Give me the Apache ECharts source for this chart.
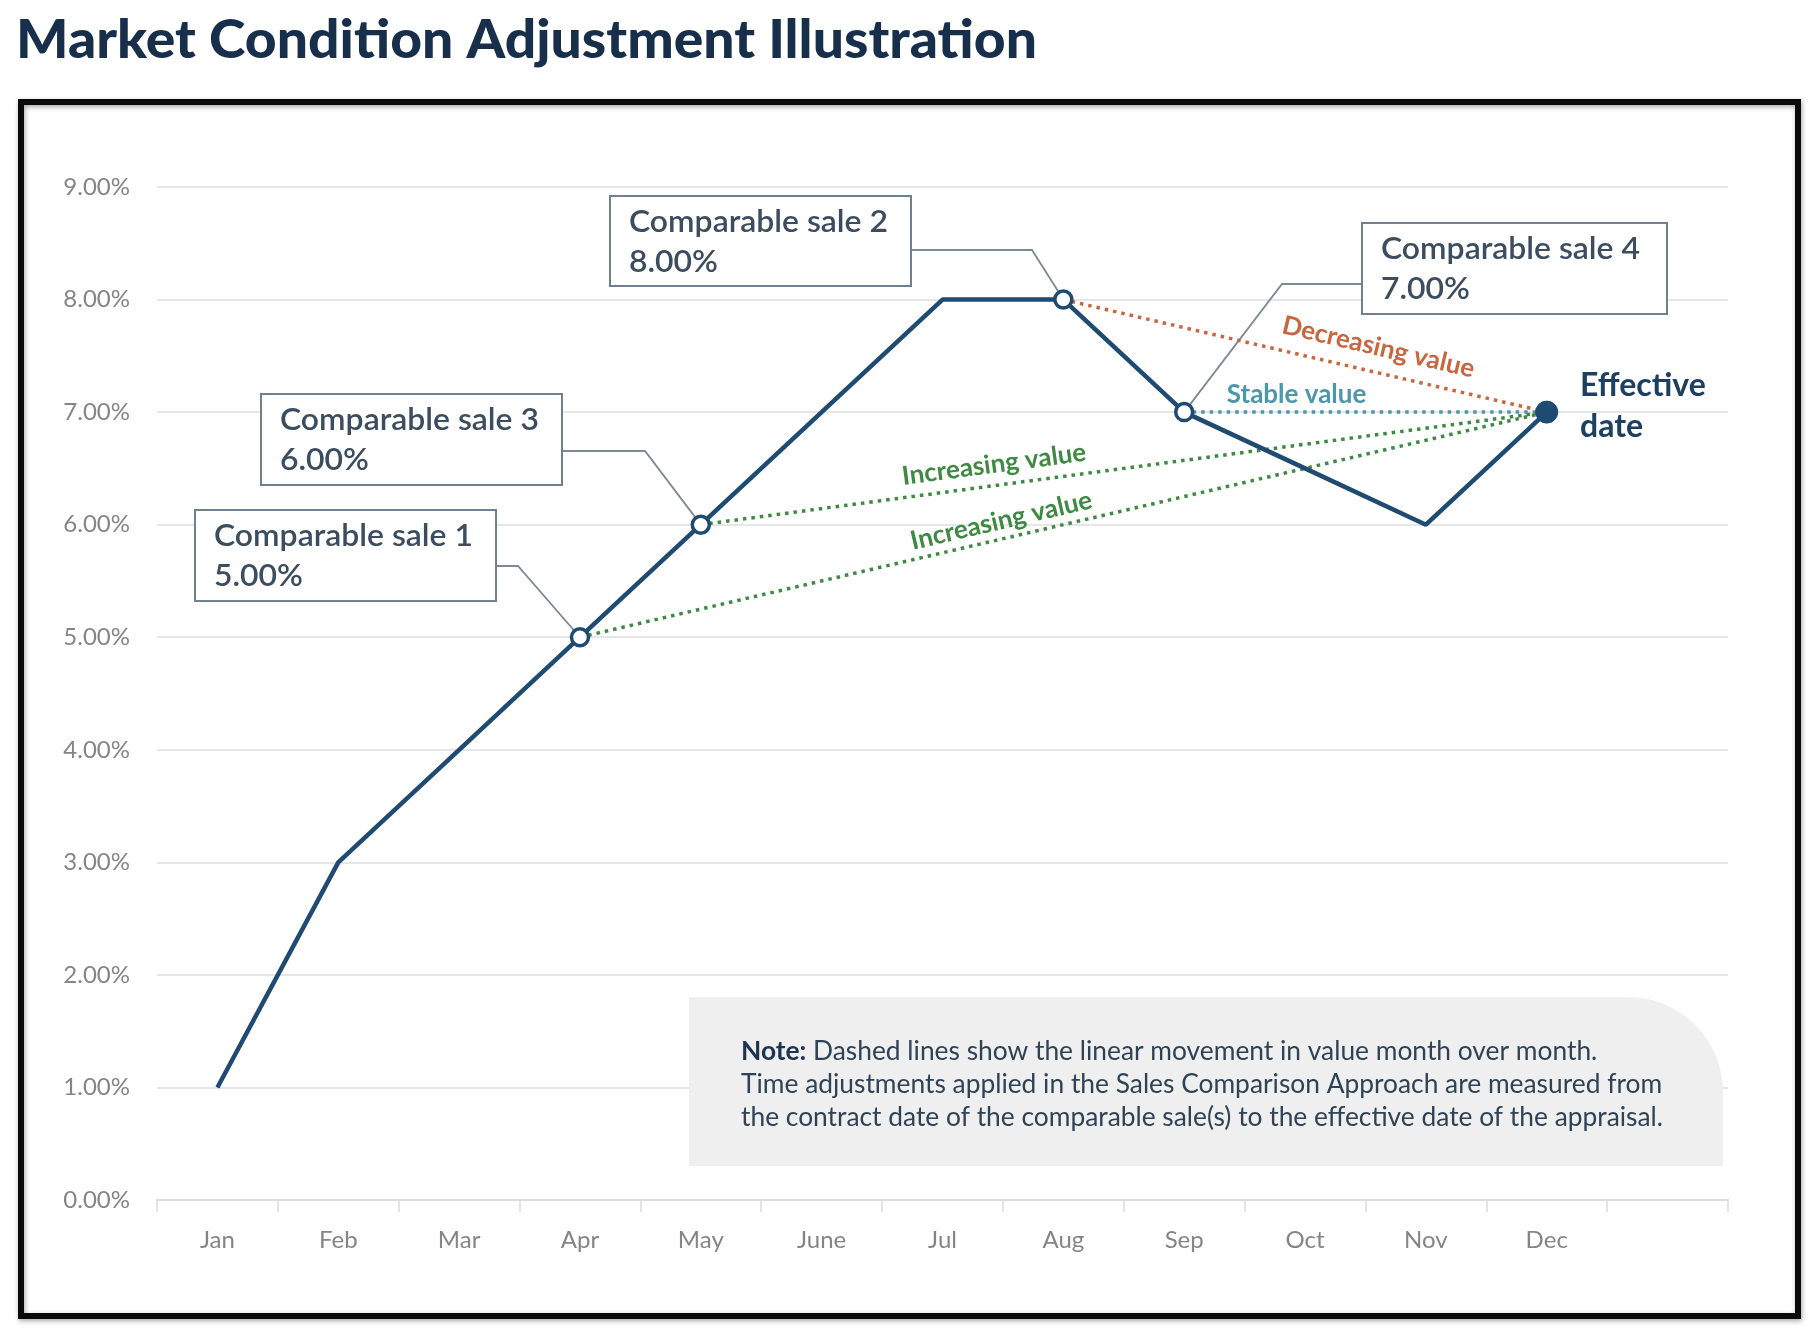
<!DOCTYPE html>
<html>
<head>
<meta charset="utf-8">
<script src="https://cdn.jsdelivr.net/npm/echarts@6/dist/echarts.min.js"></script>
<style>
html,body{margin:0;padding:0;background:#fff;}
#chart{width:1818px;height:1340px;}
</style>
</head>
<body>
<div id="chart"></div>
<script>
// ---------- DATA ----------
const titleText = 'Market Condition Adjustment Illustration';
const months = ['Jan','Feb','Mar','Apr','May','June','Jul','Aug','Sep','Oct','Nov','Dec',''];
const marketValues = [1, 3, 4, 5, 6, 7, 8, 8, 7, 6.5, 6, 7];
const yMin = 0, yMax = 9, yStep = 1;
const saleNames = ['Comparable sale 1','Comparable sale 2','Comparable sale 3','Comparable sale 4'];
const saleMonths = ['Apr','Aug','May','Sep'];
const effectiveMonth = 'Dec';
const effectiveText = 'Effective\ndate';
const trendFrom = ['Aug','Sep','May','Apr'];
const trendLabels = ['Decreasing value','Stable value','Increasing value','Increasing value'];
const noteBold = 'Note:';
const noteLines = [
  ' Dashed lines show the linear movement in value month over month.',
  'Time adjustments applied in the Sales Comparison Approach are measured from',
  'the contract date of the comparable sale(s) to the effective date of the appraisal.'
];

// ---------- STYLES / LAYOUT ----------
const FONT = 'Lato, "Open Sans", sans-serif';
const navy = '#1f4a72';
const trendColors = ['#c8663f','#4a98a8','#3f8a42','#3f8a42'];
const trendPos = [ {t:0.64, off:25}, {t:0.31, off:18}, {t:0.35, off:21}, {t:0.44, off:18} ];
const boxLayout = {
  'Apr': {x:195, y:510, w:301, h:91, side:'right', ex:518, ey:566},
  'May': {x:261, y:394, w:301, h:91, side:'right', ex:645, ey:451},
  'Aug': {x:610, y:196, w:301, h:90, side:'right', ex:1032, ey:250},
  'Sep': {x:1362, y:223, w:305, h:91, side:'left', ex:1282, ey:284}
};

const cv = document.createElement('canvas').getContext('2d');
function measure(text, font){ cv.font = font; return cv.measureText(text).width; }

const chart = echarts.init(document.getElementById('chart'));

const mainData = marketValues.map((v, i) => {
  const m = months[i];
  if (saleMonths.indexOf(m) >= 0) {
    return {value: v, symbol: 'circle', symbolSize: 17,
      itemStyle: {color: '#ffffff', borderColor: navy, borderWidth: 3.5}};
  }
  if (m === effectiveMonth) {
    return {value: v, symbol: 'circle', symbolSize: 22,
      itemStyle: {color: navy, borderColor: navy, borderWidth: 1}};
  }
  return {value: v, symbol: 'none'};
});

const effIdx = months.indexOf(effectiveMonth);
const trendSeries = trendFrom.map((m, k) => {
  const i = months.indexOf(m);
  return {
    type: 'line', z: 1, symbol: 'none', silent: true,
    data: [[i, marketValues[i]], [effIdx, marketValues[effIdx]]],
    lineStyle: {color: trendColors[k], width: 3.5, type: [3.5, 5]}
  };
});

chart.setOption({
  backgroundColor: '#ffffff',
  animation: false,
  grid: {left: 157, right: 90, top: 187, bottom: 140},
  xAxis: {
    type: 'category', data: months, boundaryGap: true,
    axisLine: {lineStyle: {color: '#dcdcdc', width: 2}},
    axisTick: {show: true, length: 12, lineStyle: {color: '#dcdcdc', width: 1.5}},
    axisLabel: {color: '#858585', fontSize: 24, margin: 28, fontFamily: FONT},
    splitLine: {show: false}
  },
  yAxis: {
    type: 'value', min: yMin, max: yMax, interval: yStep,
    axisLine: {show: false}, axisTick: {show: false},
    axisLabel: {color: '#858585', fontSize: 24, margin: 27, fontFamily: FONT,
      formatter: v => v.toFixed(2) + '%'},
    splitLine: {lineStyle: {color: '#e6e6e6', width: 2}}
  },
  series: [
    {type: 'line', z: 3, data: mainData, symbol: 'none', showSymbol: true,
     lineStyle: {color: navy, width: 4.5}, itemStyle: {color: navy}}
  ].concat(trendSeries)
});

function px(m, v){ return chart.convertToPixel({xAxisIndex: 0, yAxisIndex: 0}, [months.indexOf(m), v]); }

const g = [];
// frame
g.push({type: 'rect', z: 0, shape: {x: 21, y: 102, width: 1777, height: 1214},
  style: {fill: 'none', stroke: '#0a0a0a', lineWidth: 6, shadowBlur: 5, shadowColor: 'rgba(0,0,0,0.35)', shadowOffsetX: 1, shadowOffsetY: 2}});
// title
const titleFont = '900 54px ' + FONT;
const titleScale = 1021 / measure(titleText, titleFont);
g.push({type: 'text', x: 16, y: 41, scaleX: titleScale, z: 10,
  style: {text: titleText, font: titleFont, fill: '#172f4b', align: 'left', verticalAlign: 'middle', textAlign: 'left', textVerticalAlign: 'middle'}});

// note box
g.push({type: 'rect', z: 5, shape: {x: 689, y: 997, width: 1034, height: 169, r: [0, 95, 0, 0]},
  style: {fill: '#efefef', stroke: 'none'}});
const noteFont = '26px ' + FONT;
const noteBoldFont = 'bold 26px ' + FONT;
const longest = Math.max(measure(noteLines[1], noteFont), measure(noteLines[2], noteFont));
const noteScale = 922 / longest;
g.push({type: 'text', x: 741, y: 1035, scaleX: noteScale, z: 6,
  style: {text: '{b|' + noteBold + '}{r|' + noteLines[0] + '}\n{r|' + noteLines[1] + '}\n{r|' + noteLines[2] + '}',
    align: 'left', verticalAlign: 'top', textAlign: 'left', textVerticalAlign: 'top',
    rich: {
      b: {font: noteBoldFont, fill: '#1c344f', lineHeight: 33},
      r: {font: noteFont, fill: '#2f4256', lineHeight: 33}
    }}});

// comparable sale boxes
const boxFont = '600 30px ' + FONT;
const boxScale = 259 / measure(saleNames[1], boxFont);
saleMonths.forEach((m, k) => {
  const L = boxLayout[m];
  const v = marketValues[months.indexOf(m)];
  const p = px(m, v);
  const sx = L.side === 'right' ? L.x + L.w : L.x;
  g.push({type: 'polyline', z: 1, shape: {points: [[sx, L.ey], [L.ex, L.ey], [p[0], p[1]]]},
    style: {stroke: '#7b8a97', lineWidth: 1.8, fill: 'none'}});
  g.push({type: 'rect', z: 8, shape: {x: L.x, y: L.y, width: L.w, height: L.h},
    style: {fill: '#ffffff', stroke: '#6f8190', lineWidth: 2}});
  g.push({type: 'text', z: 9, x: L.x + 19, y: L.y + 26, scaleX: boxScale,
    style: {text: saleNames[k], font: boxFont, fill: '#3b4d5f', align: 'left', verticalAlign: 'middle', textAlign: 'left', textVerticalAlign: 'middle'}});
  g.push({type: 'text', z: 9, x: L.x + 19, y: L.y + 66, scaleX: boxScale,
    style: {text: v.toFixed(2) + '%', font: boxFont, fill: '#3b4d5f', align: 'left', verticalAlign: 'middle', textAlign: 'left', textVerticalAlign: 'middle'}});
});

// trend labels
trendFrom.forEach((m, k) => {
  const p0 = px(m, marketValues[months.indexOf(m)]);
  const p1 = px(effectiveMonth, marketValues[effIdx]);
  const dx = p1[0] - p0[0], dy = p1[1] - p0[1];
  const len = Math.sqrt(dx*dx + dy*dy);
  const ux = dx/len, uy = dy/len;
  const T = trendPos[k];
  const cx = p0[0] + dx*T.t + uy*T.off;
  const cy = p0[1] + dy*T.t - ux*T.off;
  g.push({type: 'text', z: 9, x: cx, y: cy, rotation: -Math.atan2(dy, dx),
    style: {text: trendLabels[k], font: 'bold 26px ' + FONT, fill: trendColors[k],
      align: 'center', verticalAlign: 'middle', textAlign: 'center', textVerticalAlign: 'middle'}});
});

// effective date label
g.push({type: 'text', z: 9, x: 1580, y: 365,
  style: {text: effectiveText, font: 'bold 32px ' + FONT, fill: '#1d3f62', lineHeight: 41,
    align: 'left', verticalAlign: 'top', textAlign: 'left', textVerticalAlign: 'top'}});

chart.setOption({graphic: {elements: g}});
</script>
</body>
</html>
